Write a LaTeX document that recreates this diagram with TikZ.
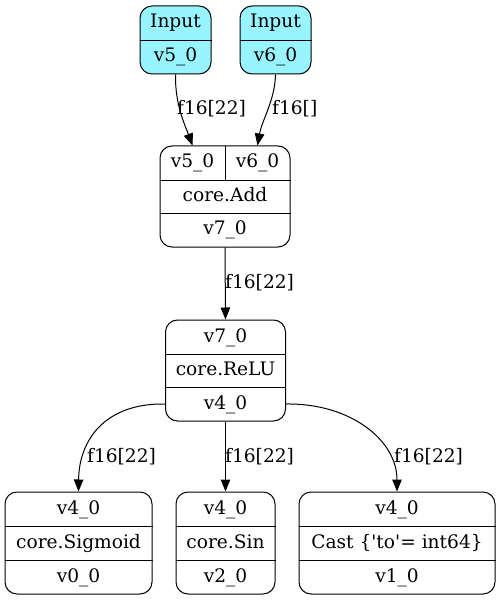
\documentclass[tikz,border=0pt]{standalone}
\usepackage{fontspec}
\setmainfont{DejaVu Serif}
\usetikzlibrary{arrows.meta}
\definecolor{inputcyan}{HTML}{98F5FF}
\begin{document}
\begin{tikzpicture}[x=1pt,y=-1pt,
  box/.style={draw, rounded corners=12pt, line width=1pt, inner sep=0pt},
  inbox/.style={box, fill=inputcyan},
  sep/.style={line width=0.9pt},
  txt/.style={anchor=base, inner sep=0pt, font=\fontsize{18.6}{22}\selectfont},
  lbl/.style={txt, anchor=base west},
  edge/.style={line width=1pt, -{Triangle[length=12pt,width=9.5pt]}}]
\useasboundingbox (0,0) rectangle (500,601);

% input nodes
\node[inbox, minimum width=71pt, minimum height=68pt] (in5) at (175.5,40) {};
\draw[sep] (in5.west |- 0,40) -- (in5.east |- 0,40);
\node[txt] (in5a) at (175.5,28) {Input};
\node[txt] (in5b) at (175.5,62) {v5\_0};

\node[inbox, minimum width=71pt, minimum height=68pt] (in6) at (275.5,40) {};
\draw[sep] (in6.west |- 0,40) -- (in6.east |- 0,40);
\node[txt] (in6a) at (275.5,28) {Input};
\node[txt] (in6b) at (275.5,62) {v6\_0};

% core.Add
\node[box, minimum width=130pt, minimum height=101pt] (add) at (225,196.5) {};
\draw[sep] (add.west |- 0,180) -- (add.east |- 0,180);
\draw[sep] (add.west |- 0,213) -- (add.east |- 0,213);
\draw[sep] (225,146) -- (225,180);
\node[txt] (addp5) at (192.5,168) {v5\_0};
\node[txt] (addp6) at (257.5,168) {v6\_0};
\node[txt] (addop) at (225,201.5) {core.Add};
\node[txt] (addout) at (225,235) {v7\_0};

% core.ReLU
\node[box, minimum width=120pt, minimum height=101pt] (relu) at (225.5,370.5) {};
\draw[sep] (relu.west |- 0,354) -- (relu.east |- 0,354);
\draw[sep] (relu.west |- 0,387) -- (relu.east |- 0,387);
\node[txt] (reluin) at (225.5,342) {v7\_0};
\node[txt] (reluop) at (225.5,375.5) {core.ReLU};
\node[txt] (reluout) at (225.5,409) {v4\_0};

% consumers
\node[box, minimum width=147pt, minimum height=102pt] (sig) at (78.5,543) {};
\draw[sep] (sig.west |- 0,526) -- (sig.east |- 0,526);
\draw[sep] (sig.west |- 0,560) -- (sig.east |- 0,560);
\node[txt] (sigin) at (78.5,514) {v4\_0};
\node[txt] (sigop) at (78.5,548) {core.Sigmoid};
\node[txt] (sigout) at (78.5,582) {v0\_0};

\node[box, minimum width=99pt, minimum height=102pt] (sin) at (225.5,543) {};
\draw[sep] (sin.west |- 0,526) -- (sin.east |- 0,526);
\draw[sep] (sin.west |- 0,560) -- (sin.east |- 0,560);
\node[txt] (sinin) at (225.5,514) {v4\_0};
\node[txt] (sinop) at (225.5,548) {core.Sin};
\node[txt] (sinout) at (225.5,582) {v2\_0};

\node[box, minimum width=196pt, minimum height=102pt] (cast) at (397,543) {};
\draw[sep] (cast.west |- 0,526) -- (cast.east |- 0,526);
\draw[sep] (cast.west |- 0,560) -- (cast.east |- 0,560);
\node[txt] (castin) at (397,514) {v4\_0};
\node[txt] (castop) at (397,548) {Cast \{\textquotesingle to\textquotesingle= int64\}};
\node[txt] (castout) at (397,582) {v1\_0};

% edge end points on the record borders
\coordinate (addt5) at (addp5 |- add.north);
\coordinate (addt6) at (addp6 |- add.north);
\coordinate (reluL) at (relu.west |- 0,404);
\coordinate (reluR) at (relu.east |- 0,404);

% connectors
\draw[edge] (in5.south) .. controls (175,105) and (185,125) .. (addt5);
\draw[edge] (in6.south) .. controls (275,100) and (262,120) .. (addt6);
\draw[edge] (add.south) -- (relu.north);
\draw[edge] (reluL) .. controls (105,403) and (79,440) .. (sig.north);
\draw[edge] (relu.south) -- (sin.north);
\draw[edge] (reluR) .. controls (350,403) and (397,440) .. (cast.north);

% edge labels
\node[lbl] (l1) at (177,115) {f16[22]};
\node[lbl] (l2) at (272,115) {f16[]};
\node[lbl] (l3) at (225,288) {f16[22]};
\node[lbl] (l4) at (87,462) {f16[22]};
\node[lbl] (l5) at (225,462) {f16[22]};
\node[lbl] (l6) at (394,462) {f16[22]};
\end{tikzpicture}
\end{document}
